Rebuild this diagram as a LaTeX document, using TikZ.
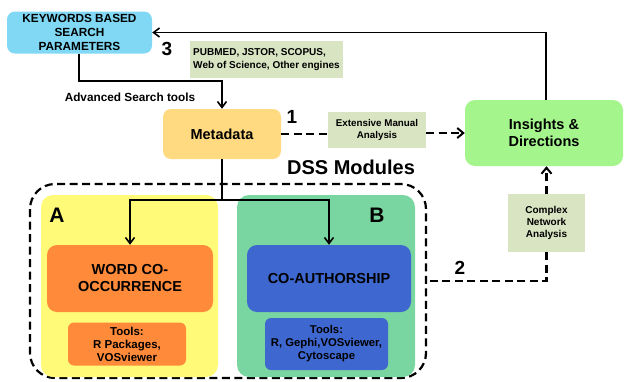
\documentclass[tikz,border=0pt]{standalone}
\usepackage{fontspec}
\setmainfont{Liberation Sans}
\usetikzlibrary{arrows.meta}
\definecolor{kwc}{HTML}{80D8F5}
\definecolor{metac}{HTML}{FFDA80}
\definecolor{insc}{HTML}{A4F58C}
\definecolor{notec}{HTML}{D9E4C2}
\definecolor{yelc}{HTML}{FFFA78}
\definecolor{orac}{HTML}{FF8A3A}
\definecolor{grnc}{HTML}{7AD6A0}
\definecolor{bluc}{HTML}{3E67CF}
\tikzset{
  box/.style={draw=none, rounded corners=8pt, inner sep=0pt, align=center, font=\bfseries},
  note/.style={draw=none, fill=notec, inner sep=0pt, align=center, font=\bfseries\fontsize{9.8}{12}\selectfont},
  conn/.style={line width=1.6pt, -{Straight Barb[length=6pt,width=9pt,line width=1.6pt]}},
  plain/.style={line width=1.6pt},
  dconn/.style={line width=2.2pt, dash pattern=on 8pt off 4.5pt, -{Straight Barb[length=6pt,width=10pt,line width=2pt]}},
  dplain/.style={line width=2.2pt, dash pattern=on 8pt off 4.5pt},
  num/.style={inner sep=0pt, font=\bfseries\fontsize{19}{19}\selectfont},
}
\begin{document}
\begin{tikzpicture}[x=1pt,y=-1pt]
\useasboundingbox (0,0) rectangle (625,381);
% nodes
\node[box, fill=kwc, minimum width=145pt, minimum height=42pt, font=\bfseries\fontsize{11.8}{14}\selectfont] (kw) at (79.5,32.5) {KEYWORDS BASED\\SEARCH\\PARAMETERS};
\node[note, minimum width=153pt, minimum height=37pt, align=left, font=\bfseries\fontsize{10}{13.5}\selectfont] (pub) at (266.5,59.5) {PUBMED, JSTOR, SCOPUS,\\Web of Science, Other engines};
\node[box, fill=metac, minimum width=118pt, minimum height=50pt, font=\bfseries\fontsize{14.5}{17}\selectfont] (meta) at (222,134) {Metadata};
\node[note, minimum width=98pt, minimum height=36pt] (ext) at (377,130) {Extensive Manual\\Analysis};
\node[box, fill=insc, rounded corners=10pt, minimum width=158pt, minimum height=66pt, font=\bfseries\fontsize{14.5}{17}\selectfont] (ins) at (544,133) {Insights \&\\Directions};
\node[note, minimum width=77pt, minimum height=58pt, font=\bfseries\fontsize{10}{12}\selectfont] (cna) at (546.5,223) {Complex\\Network\\Analysis};
% DSS region
\draw[dplain, rounded corners=25pt] (30,184) rectangle (426,378);
\node[inner sep=0pt, font=\bfseries\fontsize{20}{20}\selectfont] (dss) at (351,167) {DSS Modules};
\fill[yelc, rounded corners=12pt] (41,195) rectangle (218,377);
\fill[grnc, rounded corners=12pt] (237,195) rectangle (415,377);
\node[num, font=\bfseries\fontsize{21}{21}\selectfont] (la) at (57,215) {A};
\node[num, font=\bfseries\fontsize{21}{21}\selectfont] (lb) at (377,215) {B};
\node[box, fill=orac, rounded corners=10pt, minimum width=166pt, minimum height=67pt, font=\bfseries\fontsize{14.5}{17}\selectfont] (word) at (130,278.5) {WORD CO-\\OCCURRENCE};
\node[box, fill=orac, rounded corners=6pt, minimum width=118pt, minimum height=43pt, font=\bfseries\fontsize{11.5}{13}\selectfont] (toolsa) at (127,344) {Tools:\\R Packages,\\VOSviewer};
\node[box, fill=bluc, rounded corners=10pt, minimum width=164pt, minimum height=67pt, font=\bfseries\fontsize{14.5}{17}\selectfont] (coauth) at (329,278.5) {CO-AUTHORSHIP};
\node[box, fill=bluc, rounded corners=6pt, minimum width=123pt, minimum height=52pt, font=\bfseries\fontsize{11.3}{13}\selectfont] (toolsb) at (326.5,344) {Tools:\\R, Gephi,VOSviewer,\\Cytoscape};
% labels
\node[num] (n3) at (167,49) {3};
\node[num] (n1) at (292,117) {1};
\node[num] (n2) at (460,268) {2};
\node[inner sep=0pt, font=\bfseries\fontsize{11.8}{12}\selectfont] (ast) at (130,97) {Advanced Search tools};
% connectors
\coordinate (kwb) at (79,53.5);
\coordinate (split) at (222,200);
\coordinate (dsse) at (426,281);
\coordinate (inst) at (546,100);
\draw[conn] (kwb) -- (79,81) -| (meta.north);
\draw[conn] (inst) |- (kw.east);
\draw[dplain] (meta.east) -- (meta.east -| ext.west);
\draw[dconn] (ext.east |- ins.west) -- (ins.west);
\draw[dconn] (cna.north) -- (cna.north |- ins.south);
\draw[dplain] (cna.south) |- (dsse);
\draw[plain] (meta.south) -- (split);
\draw[conn] (split) -| (word.north);
\draw[conn] (split) -| (coauth.north);
\end{tikzpicture}
\end{document}
